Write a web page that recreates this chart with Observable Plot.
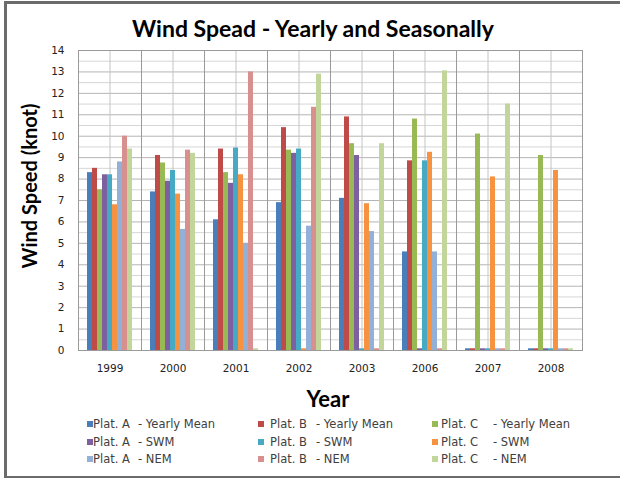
<!DOCTYPE html>
<html><head><meta charset="utf-8">
<script src="https://cdn.jsdelivr.net/npm/d3@7"></script>
<script src="https://cdn.jsdelivr.net/npm/@observablehq/plot@0.6"></script>
<style>
html,body{margin:0;padding:0;background:#fff;}
#wrap{position:relative;width:620px;height:479px;overflow:hidden;font-family:"DejaVu Sans",sans-serif;}
#frame{position:absolute;left:4px;top:1px;width:640px;height:477px;border-left:3px solid #6b6b6b;border-top:3px solid #6b6b6b;border-bottom:2px solid #6b6b6b;box-sizing:border-box;}
#title{position:absolute;left:0;width:626px;top:14px;text-align:center;font:bold 23px Lato,sans-serif;color:#000;}
#chart{position:absolute;left:0;top:45px;}
#ylabel{position:absolute;left:29px;top:186px;transform:translate(-50%,-50%) rotate(-90deg);font:bold 20px Lato,sans-serif;white-space:nowrap;color:#000;}
#xlabel{position:absolute;left:328px;top:398px;transform:translate(-50%,-50%);font:bold 22px Lato,sans-serif;color:#000;}
.sw{position:absolute;width:6px;height:6px;}
.lt{position:absolute;font-size:11.5px;color:#404040;line-height:14px;white-space:nowrap;}
</style>
</head><body>
<div id="wrap">
  <div id="frame"></div>
  <div id="title">Wind Spead - Yearly and Seasonally</div>
  <div id="chart"></div>
  <div id="ylabel">Wind Speed (knot)</div>
  <div id="xlabel">Year</div>
  <div id="legend"></div>
</div>
<script>
// ---- data ----
const years = ["1999","2000","2001","2002","2003","2006","2007","2008"];
const platforms = ["Plat. A","Plat. B","Plat. C"];
const kinds = ["- Yearly Mean","- SWM","- NEM"];
const yTicks = [0,1,2,3,4,5,6,7,8,9,10,11,12,13,14];

const platA_yearly = [8.3, 7.4, 6.1, 6.9, 7.1, 4.6, 0.08, 0.08];
const platB_yearly = [8.5, 9.1, 9.4, 10.4, 10.9, 8.85, 0.08, 0.08];
const platC_yearly = [7.5, 8.75, 8.3, 9.35, 9.65, 10.8, 10.1, 9.1];
const platA_swm    = [8.2, 7.9, 7.8, 9.2, 9.1, 0.08, 0.08, 0.08];
const platB_swm    = [8.2, 8.4, 9.45, 9.4, 0.08, 8.85, 0.08, 0.08];
const platC_swm    = [6.8, 7.3, 8.2, 0.08, 6.85, 9.25, 8.1, 8.4];
const platA_nem    = [8.8, 5.65, 5.0, 5.8, 5.55, 4.6, 0.08, 0.08];
const platB_nem    = [10.0, 9.35, 13.0, 11.35, 0.08, 0.08, 0.08, 0.08];
const platC_nem    = [9.4, 9.2, 0.08, 12.9, 9.65, 13.05, 11.5, 0.08];

const seriesValues = [platA_yearly, platB_yearly, platC_yearly,
                      platA_swm, platB_swm, platC_swm,
                      platA_nem, platB_nem, platC_nem];
const colors = ["#4A7EBB","#BE4B48","#98B954","#7D60A0","#46AAC5","#F69240","#93B1D6","#D8908F","#C2D59A"];

// ---- build ----
const seriesNames = [];
kinds.forEach(k => platforms.forEach(p => seriesNames.push(p + " " + k)));
const data = [];
years.forEach((yr, i) => seriesNames.forEach((s, j) => data.push({year: yr, series: s, value: seriesValues[j][i]})));

const halfTicks = d3.range(0.5, 14, 1);
const intTicks = yTicks.filter(d => d > 0 && d < 14);

const chart = Plot.plot({
  width: 620, height: 340,
  marginLeft: 76, marginRight: 36, marginTop: 5, marginBottom: 35,
  style: {fontFamily: "DejaVu Sans, sans-serif", fontSize: "10.5px", color: "#222", background: "transparent"},
  facet: {data, x: "year"},
  fx: {domain: years, padding: 0, tickSize: 0, tickPadding: 14, label: null},
  x: {domain: seriesNames, paddingInner: 0, paddingOuter: 0.8, axis: null},
  y: {domain: [0, 14], ticks: yTicks, tickSize: 0, tickPadding: 14, label: null, tickFormat: d => d},
  color: {domain: seriesNames, range: colors},
  marks: [
    Plot.ruleY(halfTicks, {stroke: "#d6d6d6", strokeOpacity: 1}),
    Plot.ruleY(intTicks, {stroke: "#b4b4b4", strokeOpacity: 1}),
    Plot.ruleX([seriesNames[4]], {stroke: "#c4c4c4", strokeOpacity: 1}),
    Plot.barY(data, {x: "series", y: "value", fill: "series"}),
    Plot.frame({stroke: "#9a9a9a"})
  ]
});
document.getElementById("chart").appendChild(chart);

// ---- legend ----
const leg = document.getElementById("legend");
const swLeft = [87, 258, 432], platLeft = [93, 270, 441], kindLeft = [138, 316, 493];
const rowY = [424, 442, 459];
kinds.forEach((k, r) => platforms.forEach((p, c) => {
  const idx = r * 3 + c;
  const sw = document.createElement("div");
  sw.className = "sw"; sw.style.left = swLeft[c] + "px"; sw.style.top = (rowY[r] - 3) + "px";
  sw.style.background = colors[idx];
  leg.appendChild(sw);
  const t1 = document.createElement("div");
  t1.className = "lt"; t1.style.left = platLeft[c] + "px"; t1.style.top = (rowY[r] - 7) + "px";
  t1.textContent = p; leg.appendChild(t1);
  const t2 = document.createElement("div");
  t2.className = "lt"; t2.style.left = kindLeft[c] + "px"; t2.style.top = (rowY[r] - 7) + "px";
  t2.textContent = k; leg.appendChild(t2);
}));
</script>
</body></html>
